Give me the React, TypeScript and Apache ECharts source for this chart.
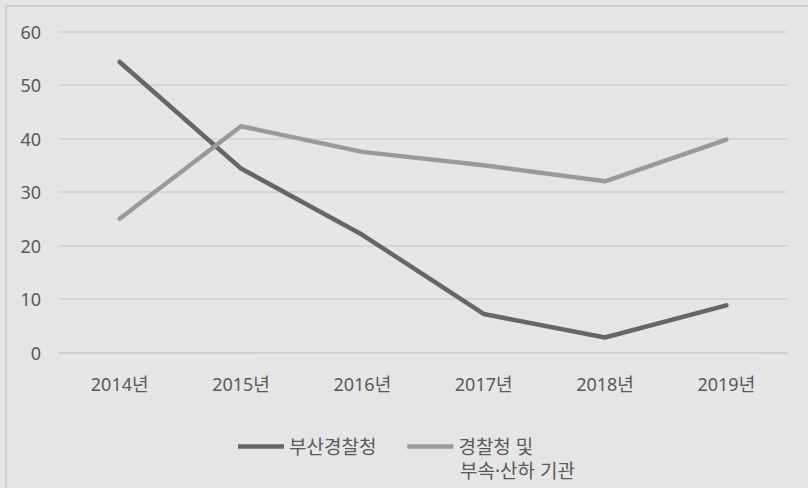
import React, { useEffect, useRef } from "react";
import * as echarts from "echarts";

const categories = ["2014년", "2015년", "2016년", "2017년", "2018년", "2019년"];
const busanValues = [54.3, 34.4, 22.0, 7.2, 2.8, 8.8];
const nationalValues = [25.0, 42.3, 37.5, 35.0, 32.0, 39.8];
const seriesNames = ["부산경찰청", "경찰청 및 부속·산하 기관"];
const legendFirstLine = "경찰청 및";
const legendSecondLine = "부속·산하 기관";
const yTicks = { min: 0, max: 60, interval: 10 };

const FONT = "'Noto Sans', 'Noto Sans CJK KR', sans-serif";
const TEXT = "#595959";

export default function App() {
  const ref = useRef<HTMLDivElement>(null);
  useEffect(() => {
    if (!ref.current) return;
    const chart = echarts.init(ref.current, undefined, { renderer: "svg" });
    chart.setOption({
      animation: false,
      backgroundColor: "transparent",
      textStyle: { fontFamily: FONT },
      grid: { left: 59, right: 21, top: 31.5, bottom: 135.5, containLabel: false },
      xAxis: {
        type: "category",
        data: categories,
        boundaryGap: true,
        axisLine: { show: true, lineStyle: { color: "#d0d0d0", width: 1.5 } },
        axisTick: { show: false },
        axisLabel: { color: TEXT, fontSize: 18, margin: 22, fontFamily: FONT },
      },
      yAxis: {
        type: "value",
        min: yTicks.min,
        max: yTicks.max,
        interval: yTicks.interval,
        axisLine: { show: false },
        axisTick: { show: false },
        axisLabel: { color: TEXT, fontSize: 18, margin: 18, fontFamily: FONT },
        splitLine: { lineStyle: { color: "#d0d0d0", width: 1.5 } },
      },
      legend: {
        left: 233,
        top: 431.5,
        icon: "rect",
        itemWidth: 46,
        itemHeight: 4.5,
        itemGap: 31,
        textStyle: { color: TEXT, fontSize: 19, lineHeight: 20, fontFamily: FONT },
        formatter: (name: string) => (name === seriesNames[1] ? legendFirstLine : name),
        data: seriesNames,
      },
      graphic: [
        {
          type: "text",
          left: 460,
          top: 461,
          style: { text: legendSecondLine, fill: TEXT, fontSize: 19, lineHeight: 20, fontFamily: FONT },
        },
      ],
      series: [
        {
          name: seriesNames[0],
          type: "line",
          data: busanValues,
          symbol: "none",
          lineStyle: { color: "#666666", width: 4.5, cap: "round", join: "round" },
          itemStyle: { color: "#666666" },
        },
        {
          name: seriesNames[1],
          type: "line",
          data: nationalValues,
          symbol: "none",
          lineStyle: { color: "#9a9a9a", width: 4.5, cap: "round", join: "round" },
          itemStyle: { color: "#9a9a9a" },
        },
      ],
    });
    return () => chart.dispose();
  }, []);

  return (
    <div style={{ position: "fixed", left: 0, top: 0, width: 808, height: 488, background: "#e6e6e6", overflow: "hidden" }}>
      <div
        style={{
          position: "absolute",
          left: 5,
          top: 5,
          width: 803,
          height: 483,
          borderTop: "2px solid #cfcfcf",
          borderLeft: "2px solid #cfcfcf",
          boxSizing: "border-box",
        }}
      />
      <div ref={ref} style={{ position: "absolute", left: 0, top: 0, width: 808, height: 488 }} />
    </div>
  );
}
